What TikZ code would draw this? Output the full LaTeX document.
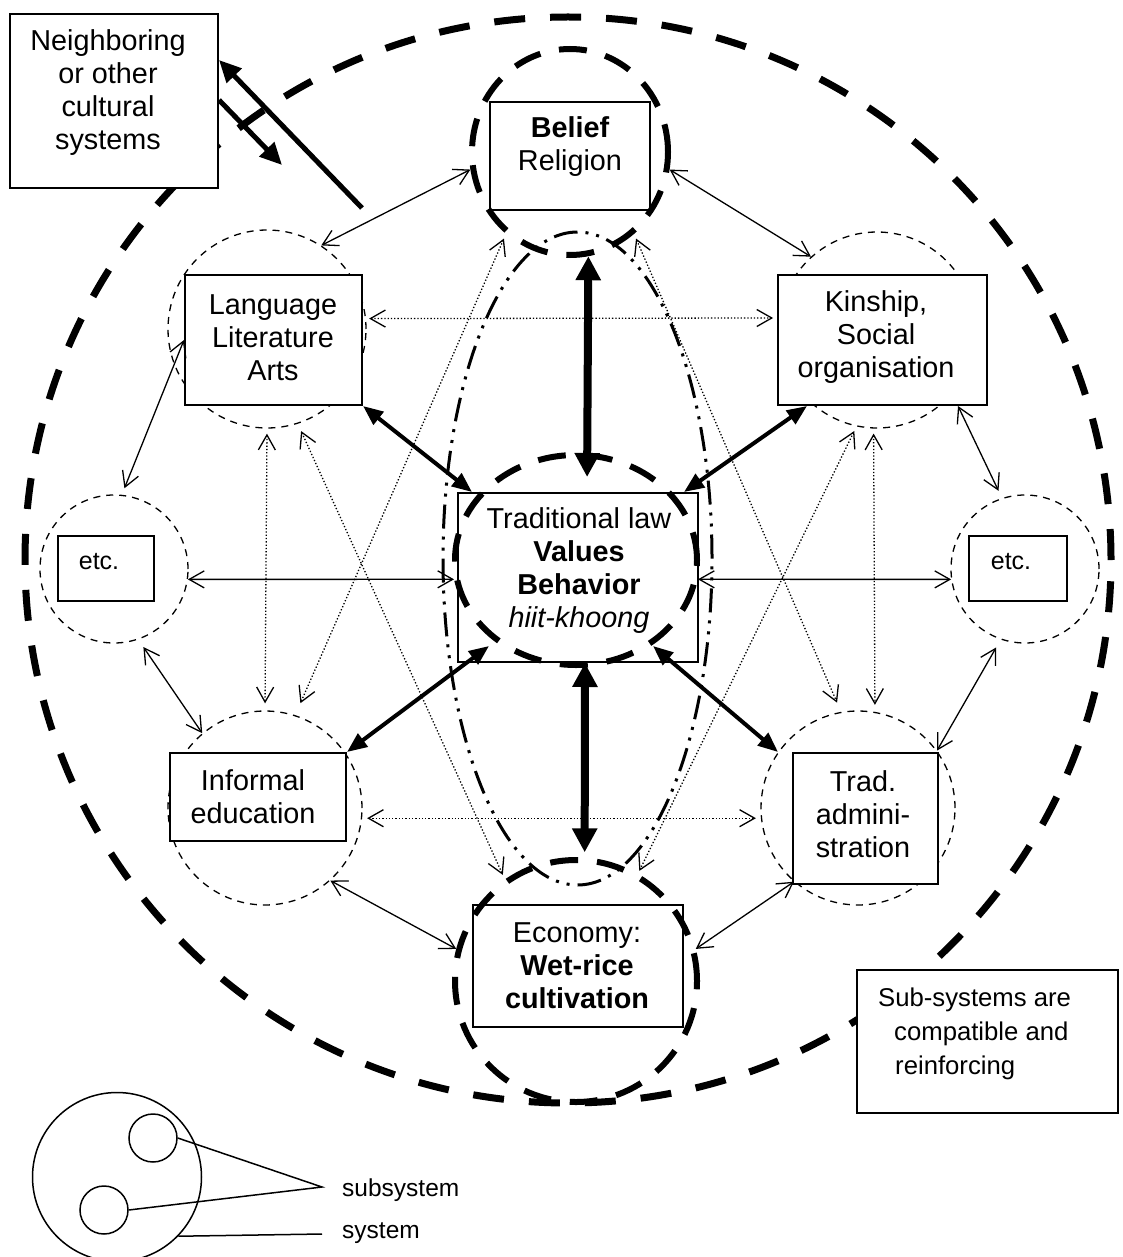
\documentclass[tikz,border=0pt]{standalone}
\usepackage{fontspec}
\setmainfont{Liberation Sans}
\usetikzlibrary{arrows.meta,shapes.geometric}
\begin{document}
\begin{tikzpicture}[x=1pt,y=-1pt,
  font=\fontsize{28.8}{33}\selectfont,
  >={Straight Barb[length=15pt,width=17pt]},
  sysring/.style={circle,draw,line width=7pt,dash pattern=on 31pt off 25pt,inner sep=0},
  subring/.style={circle,draw,line width=1.3pt,dash pattern=on 7pt off 6pt,inner sep=0},
  ring/.style={ellipse,draw,line width=6pt,dash pattern=on 28pt off 19pt,inner sep=0},
  lawring/.style={ellipse,draw,line width=3pt,dash pattern=on 24pt off 8pt on 3pt off 8pt on 3pt off 8pt,inner sep=0},
  box/.style={rectangle,draw,line width=2pt,fill=white,inner sep=0},
  txt/.style={align=center,inner sep=0},
  lnk/.style={line width=1.3pt,<->},
  dotlnk/.style={line width=1.3pt,dash pattern=on 1.3pt off 2pt,<->},
  medarr/.style={line width=4pt,{Triangle[length=20pt,width=16pt]}-{Triangle[length=20pt,width=16pt]}},
  bigarr/.style={line width=8pt,{Triangle[length=24pt,width=24pt]}-{Triangle[length=24pt,width=24pt]}},
  narr/.style={line width=5pt,-{Triangle[length=22pt,width=20pt]}},
  legline/.style={line width=1.5pt}
]
\useasboundingbox (0,0) rectangle (1123,1257);
\fill[white] (0,0) rectangle (1123,1257);

% outer system circle
\node[sysring,minimum size=1086pt] (sys) at (568,560) {};

% sub-system circles
\node[subring,minimum size=198pt] (lang) at (267,329) {};
\node[subring,minimum size=196pt] (kin) at (877,330) {};
\node[subring,minimum size=148pt] (etcL) at (114,569) {};
\node[subring,minimum size=148pt] (etcR) at (1025,569) {};
\node[subring,minimum size=194pt] (inf) at (265,808) {};
\node[subring,minimum size=194pt] (trad) at (858,808) {};

% dash-dot ellipse
\node[lawring,minimum width=269pt,minimum height=653pt] (law) at (577.5,558.5) {};

% boxes
\node[box,minimum width=208pt,minimum height=174pt] (neigh) at (114,101) {};
\node[box,minimum width=160pt,minimum height=108pt] (belbox) at (570,156) {};
\node[box,minimum width=177pt,minimum height=130pt] (langbox) at (273.5,340) {};
\node[box,minimum width=209pt,minimum height=130pt] (kinbox) at (882.5,340) {};
\node[box,minimum width=96pt,minimum height=65pt] (etcLbox) at (106,568.5) {};
\node[box,minimum width=98pt,minimum height=65pt] (etcRbox) at (1018,568.5) {};
\node[box,minimum width=240pt,minimum height=169pt] (ctrbox) at (578,577.5) {};
\node[box,minimum width=176pt,minimum height=88pt] (infbox) at (258,797) {};
\node[box,minimum width=145pt,minimum height=131pt] (tradbox) at (865.5,818.5) {};
\node[box,minimum width=210pt,minimum height=122pt] (ecobox) at (578,966) {};
\node[box,minimum width=261pt,minimum height=143pt] (subbox) at (987.5,1041.5) {};

% thick dashed rings
\node[ring,minimum width=196pt,minimum height=206pt] (bel) at (570,152) {};
\node[ring,minimum width=242pt,minimum height=210pt] (ctr) at (576,560) {};
\node[ring,minimum width=242pt,minimum height=242pt] (eco) at (576,981) {};

% texts
\node[txt] (neight) at (108,93) {Neighboring\\or other\\cultural\\systems};
\node[txt] (belt) at (570,147) {\textbf{Belief}\\Religion};
\node[txt] (langt) at (273,338) {Language\\Literature\\Arts};
\node[txt] (kint) at (876,337) {Kinship,\\Social\\organisation};
\node[txt] (ctrt) at (579,571) {Traditional law\\\textbf{Values}\\\textbf{Behavior}\\\textit{hiit-khoong}};
\node[txt] (inft) at (253,797) {Informal\\education};
\node[txt] (tradt) at (863,814) {Trad.\\admini-\\stration};
\node[txt] (ecot) at (577,966) {Economy:\\\textbf{Wet-rice}\\\textbf{cultivation}};
\node[txt,font=\fontsize{25}{30}\selectfont] (etcLt) at (99,562) {etc.};
\node[txt,font=\fontsize{25}{30}\selectfont] (etcRt) at (1011,562) {etc.};
\node[txt,align=left,anchor=west,font=\fontsize{25.7}{34}\selectfont] (subt) at (878,1034)
  {Sub-systems are\\\hspace*{16pt}compatible and\\\hspace*{17pt}reinforcing};

% thin solid links
\draw[lnk] (bel.190) -- (lang.57);
\draw[lnk] (bel.350) -- (kin.132);
\draw[lnk,shorten <=7pt] (etcL.84) -- (langbox.west);
\draw[lnk,shorten >=8pt] ([xshift=-30pt]kinbox.south east) -- (etcR.108);
\draw[lnk,shorten <=9pt] (etcL.289) -- (inf.130);
\draw[lnk,shorten <=9pt] (etcR.251) -- (trad.36);
\draw[lnk] (inf.312) -- (eco.165);
\draw[lnk] (trad.229) -- (eco.15);
\draw[lnk] (etcL.352) -- (ctr.189);
\draw[lnk] (ctr.351) -- (etcR.188);

% dotted links
\draw[dotlnk,shorten <=3pt,shorten >=6pt] (lang.6) -- (kin.173);
\draw[dotlnk,shorten <=5pt,shorten >=5pt] (inf.354) -- (trad.186);
\draw[dotlnk,shorten <=5pt,shorten >=7pt] (lang.270) -- (inf.90);
\draw[dotlnk,shorten <=5pt,shorten >=7pt] (kin.268) -- (trad.80);
\draw[dotlnk,shorten <=8pt,shorten >=5pt] (lang.288) -- (eco.125);
\draw[dotlnk,shorten <=5pt,shorten >=3pt] (kin.258) -- (eco.60);
\draw[dotlnk,shorten <=5pt,shorten >=10pt] (bel.308) -- (trad.100);
\draw[dotlnk,shorten <=5pt,shorten >=13pt] (bel.232) -- (inf.72);

% thick links to the core
\draw[bigarr,shorten >=15pt] (bel.280) -- ([xshift=9pt]ctrbox.north);
\draw[bigarr,shorten >=5pt] ([xshift=7pt]ctrbox.south) -- (eco.86);
\draw[medarr] (langbox.south east) -- ([xshift=15pt]ctrbox.north west);
\draw[medarr] ([xshift=30pt]kinbox.south west) -- ([xshift=-15pt]ctrbox.north east);
\draw[medarr] ([xshift=32pt,yshift=17pt]ctrbox.south west) -- (infbox.north east);
\draw[medarr] ([xshift=-46pt,yshift=17pt]ctrbox.south east) -- (trad.145);

% exchange with neighbouring systems
\coordinate (g0) at (362,208);
\coordinate (h1) at (282,165);
\draw[narr] (g0) -- ([yshift=41pt]neigh.east);
\draw[narr] ([yshift=1pt]neigh.east) -- (h1);

% legend
\node[circle,draw,legline,minimum size=169pt,inner sep=0] (lsys) at (117,1177) {};
\node[circle,draw,legline,minimum size=48pt,inner sep=0] (lsub1) at (153,1138) {};
\node[circle,draw,legline,minimum size=48pt,inner sep=0] (lsub2) at (104,1210) {};
\coordinate (lj) at (322,1187);
\coordinate (ls) at (322,1234);
\draw[legline] (lsub1.east) -- (lj) -- (lsub2.east);
\draw[legline] (lsys.316) -- (ls);
\node[anchor=west,inner sep=0,font=\fontsize{24.5}{29}\selectfont] (lt1) at (342,1190) {subsystem};
\node[anchor=west,inner sep=0,font=\fontsize{24.5}{29}\selectfont] (lt2) at (342,1233) {system};
\end{tikzpicture}
\end{document}
